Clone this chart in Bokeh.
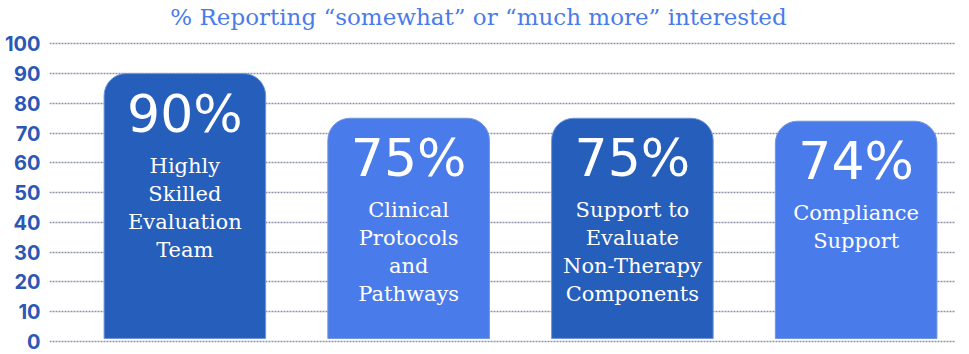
from bokeh.plotting import figure
from bokeh.models import Range1d, ColumnDataSource, FixedTicker
from bokeh.embed import file_html
from bokeh.resources import INLINE
from bokeh.core.properties import value

# Data
categories = ["Highly Skilled Evaluation Team", "Clinical Protocols and Pathways",
              "Support to Evaluate Non-Therapy Components", "Compliance Support"]
label_lines = [["Highly", "Skilled", "Evaluation", "Team"],
               ["Clinical", "Protocols", "and", "Pathways"],
               ["Support to", "Evaluate", "Non-Therapy", "Components"],
               ["Compliance", "Support"]]
values = [90, 75, 75, 74]
bar_colors = ["#255EBB", "#4A7BEA", "#255EBB", "#4A7BEA"]
y_ticks = [0, 10, 20, 30, 40, 50, 60, 70, 80, 90, 100]
title_text = "% Reporting \u201csomewhat\u201d or \u201cmuch more\u201d interested"

xs = [1, 2, 3, 4]
src = ColumnDataSource(dict(
    x=xs, top=values, color=bar_colors,
    pct=[f"{v}%" for v in values],
    lab=["\n".join(l) for l in label_lines],
))

x_lo, x_hi = 0.395, 4.444
y_lo, y_hi = -1, 114.55
p = figure(width=969, height=354, output_backend="svg", toolbar_location=None,
           x_range=Range1d(x_lo, x_hi), y_range=Range1d(y_lo, y_hi),
           x_axis_location=None, min_border_left=49, min_border_right=14,
           min_border_top=0, min_border_bottom=10)
p.outline_line_color = None
p.background_fill_color = "white"
p.border_fill_color = "white"

p.yaxis.ticker = FixedTicker(ticks=y_ticks)
p.yaxis.axis_line_color = None
p.yaxis.major_tick_line_color = None
p.yaxis.minor_tick_line_color = None
p.yaxis.major_tick_out = 0
p.yaxis.major_tick_in = 0
p.yaxis.axis_label_standoff = 0
p.yaxis.major_label_text_font = "Inter"
p.yaxis.major_label_text_font_style = "bold"
p.yaxis.major_label_text_font_size = "20px"
p.yaxis.major_label_text_color = "#2B57B5"
p.yaxis.major_label_standoff = 9

p.xgrid.grid_line_color = None
p.ygrid.grid_line_color = "#8E92A6"
p.ygrid.grid_line_dash = "2 1"
p.ygrid.grid_line_width = 1.5

# title drawn in the top band of the plot area
p.text(x=[x_lo + (x_hi - x_lo) * 0.4735], y=[y_lo + (y_hi - y_lo) * 0.9506],
       text=[title_text], text_align="center", text_baseline="middle",
       text_color="#4A7BEA", text_font=value("DejaVu Serif"), text_font_size="23px")

p.vbar(x="x", top="top", bottom=1, width=0.722, fill_color="color",
       line_color="#7096DC", line_width=1, source=src,
       border_radius=(22, 22, 0, 0))

p.text(x="x", y="top", text="pct", source=src, text_align="center",
       text_baseline="middle", y_offset=40, text_color="white",
       text_font=value("DejaVu Sans"), text_font_size="52px")

p.text(x="x", y="top", text="lab", source=src, text_align="center",
       text_baseline="top", y_offset=80, text_color="white",
       text_font=value("DejaVu Serif"), text_font_size="21px",
       text_line_height=1.17)

open("out.html", "w").write(file_html(p, INLINE))
